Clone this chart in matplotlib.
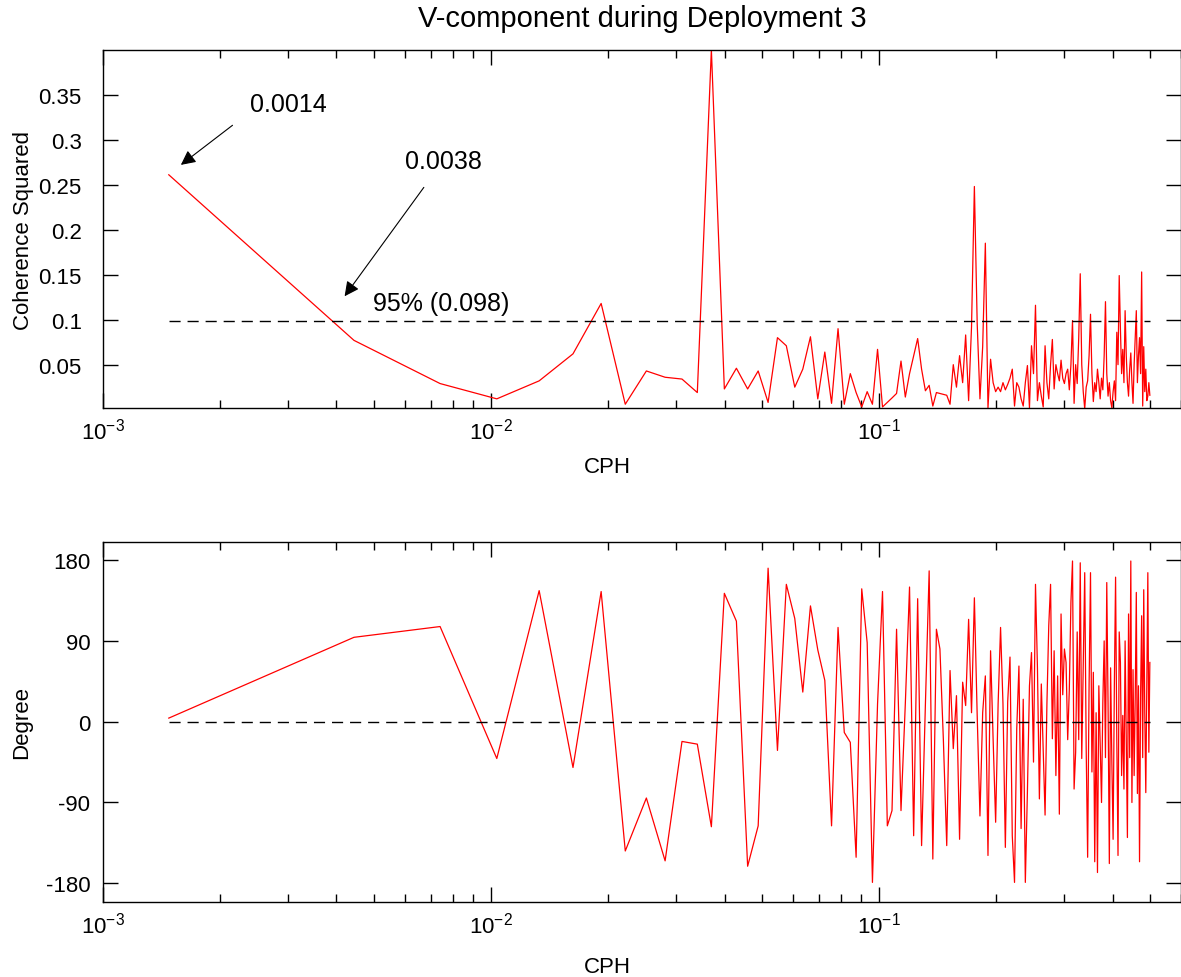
import numpy as np
import matplotlib
matplotlib.use("Agg")
import matplotlib.pyplot as plt
from matplotlib.ticker import FixedLocator, FixedFormatter, LogLocator, NullFormatter

plt.rcParams['font.family'] = ['Liberation Sans', 'DejaVu Sans']
plt.rcParams['mathtext.fontset'] = 'custom'
plt.rcParams['mathtext.rm'] = 'Liberation Sans'
plt.rcParams['mathtext.it'] = 'Liberation Sans'
plt.rcParams['mathtext.default'] = 'regular'

# ---- data ----
df = 0.00296                      # frequency resolution (CPH)
n_freq = 169
freq = (np.arange(n_freq) + 0.5) * df

coherence = [
    0.261, 0.077, 0.029, 0.012, 0.032, 0.062, 0.118, 0.006, 0.043, 0.036,
    0.034, 0.019, 0.400, 0.023, 0.046, 0.023, 0.043, 0.008, 0.080, 0.071,
    0.025, 0.045, 0.081, 0.012, 0.064, 0.007, 0.090, 0.006, 0.040, 0.019,
    0.003, 0.020, 0.006, 0.067, 0.003, 0.008, 0.013, 0.018, 0.054, 0.014,
    0.040, 0.060, 0.079, 0.045, 0.021, 0.027, 0.004, 0.019, 0.018, 0.017,
    0.016, 0.006, 0.050, 0.025, 0.060, 0.030, 0.083, 0.010, 0.092, 0.248,
    0.096, 0.012, 0.070, 0.185, 0.002, 0.056, 0.030, 0.020, 0.025, 0.020,
    0.030, 0.022, 0.028, 0.035, 0.045, 0.004, 0.030, 0.025, 0.012, 0.004,
    0.030, 0.049, 0.002, 0.071, 0.040, 0.116, 0.010, 0.030, 0.015, 0.003,
    0.071, 0.030, 0.012, 0.050, 0.078, 0.023, 0.050, 0.040, 0.032, 0.055,
    0.035, 0.029, 0.040, 0.045, 0.022, 0.050, 0.099, 0.007, 0.050, 0.029,
    0.080, 0.151, 0.050, 0.020, 0.001, 0.025, 0.032, 0.060, 0.106, 0.040,
    0.009, 0.030, 0.020, 0.045, 0.030, 0.012, 0.035, 0.022, 0.060, 0.120,
    0.040, 0.015, 0.030, 0.010, 0.002, 0.020, 0.032, 0.010, 0.086, 0.050,
    0.149, 0.090, 0.040, 0.067, 0.030, 0.110, 0.060, 0.030, 0.015, 0.045,
    0.063, 0.030, 0.007, 0.050, 0.080, 0.110, 0.030, 0.060, 0.080, 0.040,
    0.153, 0.004, 0.070, 0.020, 0.045, 0.010, 0.015, 0.030, 0.016,
]

phase = [
    4, 94, 106, -41, 146, -51, 145, -144, -85, -155,
    -22, -25, -117, 143, 112, -161, -116, 171, -32, 153,
    115, 33, 129, 80, 46, -116, 105, -12, -23, -151,
    148, 88, -179, 20, 145, -116, -99, 103, -99, 20,
    150, -127, 137, -138, 20, 168, -153, 103, 81, -20,
    -138, 57, -30, 29, -131, 44, 18, 114, 10, 138,
    7, -105, 10, 51, -149, 79, -20, -112, 20, 105,
    20, -140, 22, 72, -127, -179, -8, 62, -119, 25,
    -179, -78, 40, 77, -45, 153, 60, -86, 42, -30,
    -104, 20, 107, 153, -19, 79, -60, 51, -103, 120,
    30, 81, 66, -20, 36, 133, 179, -75, -34, 100,
    -20, 177, -41, 60, 166, -30, -151, 40, 166, -56,
    55, -156, 10, -168, 40, -23, -90, 22, 90, -40,
    155, 20, -158, 60, -45, -131, 40, 161, -20, -149,
    100, 66, -60, 7, -75, 90, -20, -129, 120, -40,
    179, -90, 58, -60, 27, 144, -80, 40, -156, 30,
    118, -40, 147, 10, -79, 50, 166, -34, 66,
]

conf95 = 0.098
title = "V-component during Deployment 3"

# ---- figure ----
W, H = 1181, 978
fig = plt.figure(figsize=(W / 100, H / 100), dpi=100)

def px_axes(left, top, right, bottom):
    return fig.add_axes([left / W, 1 - bottom / H, (right - left) / W, (bottom - top) / H])

ax1 = px_axes(102.7, 50.7, 1181, 409.3)
ax2 = px_axes(102.7, 542.7, 1181, 902.7)

FS = 16
red = (1, 0, 0)

def style_log_x(ax, ypad, label_y):
    ax.set_xscale('log')
    ax.set_xlim(1e-3, 0.6)
    ax.xaxis.set_major_locator(FixedLocator([1e-3, 1e-2, 1e-1]))
    ax.xaxis.set_major_formatter(FixedFormatter([r'$10^{-3}$', r'$10^{-2}$', r'$10^{-1}$']))
    ax.xaxis.set_minor_locator(LogLocator(base=10, subs=np.arange(2, 10), numticks=20))
    ax.xaxis.set_minor_formatter(NullFormatter())
    ax.tick_params(which='both', direction='in', top=True, right=True, labelsize=FS)
    ax.tick_params(which='major', length=11, width=1)
    ax.tick_params(which='minor', length=6, width=1)
    ax.tick_params(axis='x', which='both', pad=7)
    ax.tick_params(axis='y', which='both', pad=ypad)
    for s in ax.spines.values():
        s.set_linewidth(1)
    ax.set_xlabel('CPH', fontsize=FS)
    ax.xaxis.set_label_coords(0.468, label_y)

# top panel
ax1.plot(freq, coherence, color=red, lw=0.9)
ax1.plot([freq[0], freq[-1]], [conf95, conf95], color='k', lw=1, ls=(0, (8, 5)))
style_log_x(ax1, 15, -0.133)
ax1.set_ylim(0.0015, 0.4)
yt1 = [0.05, 0.1, 0.15, 0.2, 0.25, 0.3, 0.35]
ax1.yaxis.set_major_locator(FixedLocator(yt1))
ax1.yaxis.set_major_formatter(FixedFormatter(['0.05', '0.1', '0.15', '0.2', '0.25', '0.3', '0.35']))
ax1.set_ylabel('Coherence Squared', fontsize=FS, labelpad=3)
ax1.set_title(title, fontsize=21, pad=17)

arrow = dict(arrowstyle='-|>', color='k', lw=0.8, mutation_scale=22, shrinkA=0, shrinkB=0)
ax1.annotate('', xy=(0.00159, 0.272), xytext=(0.00216, 0.316), arrowprops=arrow)
ax1.text(0.00239, 0.340, '0.0014', fontsize=18, va='center', ha='left')
ax1.annotate('', xy=(0.0042, 0.126), xytext=(0.00672, 0.247), arrowprops=arrow)
ax1.text(0.0060, 0.2767, '0.0038', fontsize=18, va='center', ha='left')
ax1.text(0.00496, 0.118, '95% (0.098)', fontsize=18, va='center', ha='left')

# bottom panel
ax2.plot(freq, phase, color=red, lw=0.9)
ax2.plot([freq[0], freq[-1]], [0, 0], color='k', lw=1, ls=(0, (8, 5)))
style_log_x(ax2, 9, -0.151)
ax2.set_ylim(-200.5, 200.5)
ax2.yaxis.set_major_locator(FixedLocator([-180, -90, 0, 90, 180]))
ax2.yaxis.set_major_formatter(FixedFormatter(['-180', '-90', '0', '90', '180']))
ax2.set_ylabel('Degree', fontsize=FS, labelpad=10)

fig.savefig('out.png', dpi=100)
